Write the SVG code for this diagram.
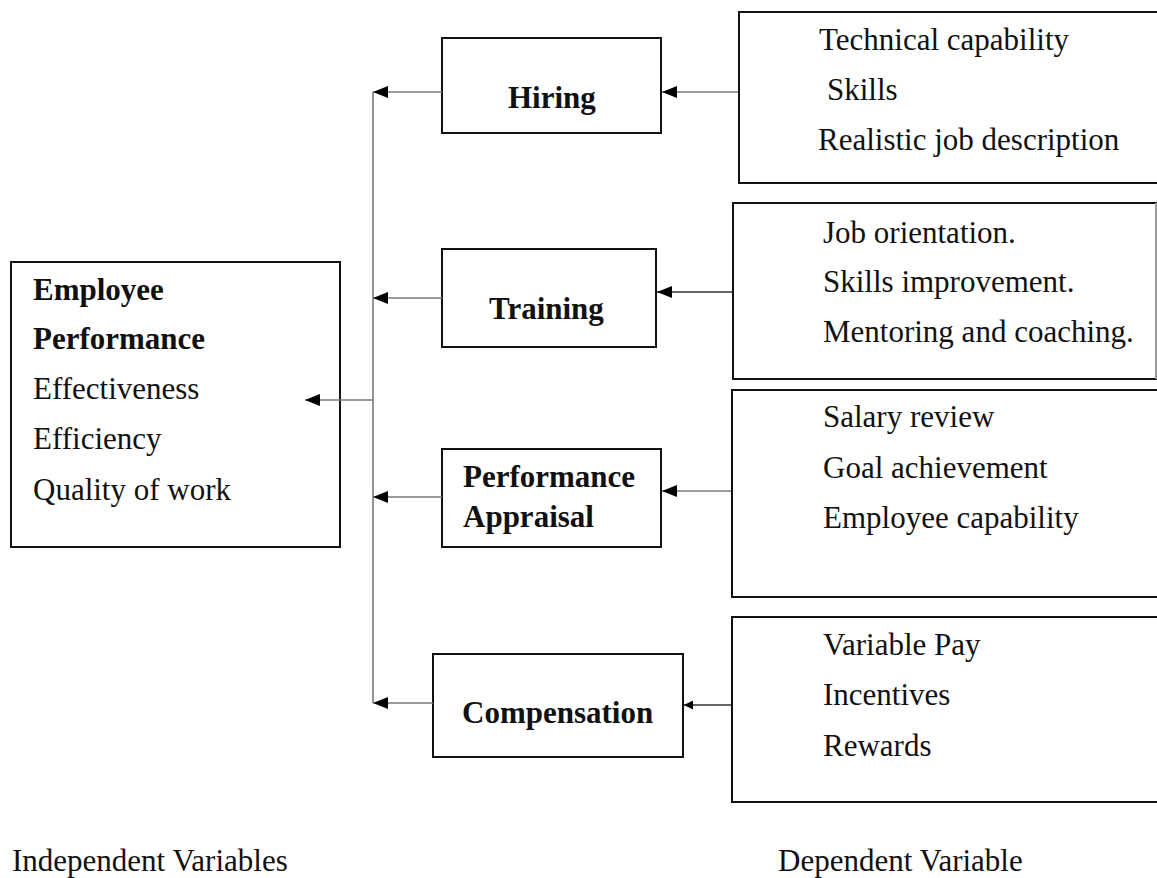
<svg xmlns="http://www.w3.org/2000/svg" width="1157" height="878" viewBox="0 0 1157 878">
  <style>
    .box { fill: #fff; stroke: #111; stroke-width: 2; }
    .txt { font-family: "Liberation Serif", "Times New Roman", serif; font-size: 31px; fill: #111; }
    .b { font-weight: bold; }
    .link { stroke: #7a7a7a; stroke-width: 1.6; fill: none; }
    .dark { stroke: #333; }
  </style>
  <defs>
    <marker id="head" markerUnits="userSpaceOnUse" viewBox="0 0 15 12" refX="15" refY="6" markerWidth="15" markerHeight="12" orient="auto">
      <path d="M0,0 L15,6 L0,12 Z" fill="#000"/>
    </marker>
    <marker id="headSmall" markerUnits="userSpaceOnUse" viewBox="0 0 9 9" refX="9" refY="4.5" markerWidth="9" markerHeight="9" orient="auto">
      <path d="M0,0 L9,4.5 L0,9 Z" fill="#000"/>
    </marker>
  </defs>

  <rect width="1157" height="878" fill="#fff"/>

  <!-- outcome -->
  <g id="employee-performance">
    <rect class="box" x="11" y="262" width="329" height="285"/>
    <text class="txt b" x="33" y="300">Employee</text>
    <text class="txt b" x="33" y="349">Performance</text>
    <text class="txt" x="33" y="399">Effectiveness</text>
    <text class="txt" x="33" y="449">Efficiency</text>
    <text class="txt" x="33" y="500">Quality of work</text>
  </g>

  <!-- HR practices -->
  <g id="hiring">
    <rect class="box" x="442" y="38" width="219" height="95"/>
    <text class="txt b" x="508" y="108">Hiring</text>
  </g>
  <g id="training">
    <rect class="box" x="442" y="249" width="214" height="98"/>
    <text class="txt b" x="489" y="319">Training</text>
  </g>
  <g id="performance-appraisal">
    <rect class="box" x="442" y="449" width="219" height="98"/>
    <text class="txt b" x="463" y="487">Performance</text>
    <text class="txt b" x="463" y="527">Appraisal</text>
  </g>
  <g id="compensation">
    <rect class="box" x="433" y="654" width="250" height="103"/>
    <text class="txt b" x="462" y="723">Compensation</text>
  </g>

  <!-- indicator lists -->
  <g id="hiring-items">
    <rect class="box" x="739" y="12" width="440" height="171"/>
    <text class="txt" x="819" y="50">Technical capability</text>
    <text class="txt" x="827" y="100">Skills</text>
    <text class="txt" x="818" y="150">Realistic job description</text>
  </g>
  <g id="training-items">
    <rect class="box" x="733" y="203" width="423" height="176"/>
    <line x1="1156" y1="203" x2="1156" y2="379" stroke="#999" stroke-width="2"/>
    <text class="txt" x="823" y="243">Job orientation.</text>
    <text class="txt" x="823" y="292">Skills improvement.</text>
    <text class="txt" x="823" y="342">Mentoring and coaching.</text>
  </g>
  <g id="appraisal-items">
    <rect class="box" x="732" y="390" width="440" height="207"/>
    <text class="txt" x="823" y="427">Salary review</text>
    <text class="txt" x="823" y="478">Goal achievement</text>
    <text class="txt" x="823" y="528">Employee capability</text>
  </g>
  <g id="compensation-items">
    <rect class="box" x="732" y="617" width="440" height="185"/>
    <text class="txt" x="823" y="655">Variable Pay</text>
    <text class="txt" x="823" y="705">Incentives</text>
    <text class="txt" x="823" y="756">Rewards</text>
  </g>

  <!-- connectors, drawn last so the main arrow sits inside the outcome box -->
  <g id="connectors">
    <line class="link" x1="373" y1="92" x2="373" y2="703"/>
    <line class="link" x1="442" y1="92" x2="373" y2="92" marker-end="url(#head)"/>
    <line class="link" x1="442" y1="298" x2="373" y2="298" marker-end="url(#head)"/>
    <line class="link" x1="442" y1="497" x2="373" y2="497" marker-end="url(#head)"/>
    <line class="link" x1="433" y1="703" x2="373" y2="703" marker-end="url(#head)"/>
    <line class="link" x1="373" y1="400" x2="305" y2="400" marker-end="url(#head)"/>
    <line class="link" x1="738" y1="92" x2="662" y2="92" marker-end="url(#head)"/>
    <line class="link dark" x1="732" y1="292" x2="657" y2="292" marker-end="url(#head)"/>
    <line class="link" x1="731" y1="491" x2="662" y2="491" marker-end="url(#head)"/>
    <line class="link dark" x1="731" y1="705" x2="684" y2="705" marker-end="url(#headSmall)"/>
  </g>

  <!-- captions -->
  <g id="captions">
    <text class="txt" x="12" y="871">Independent Variables</text>
    <text class="txt" x="778" y="871">Dependent Variable</text>
  </g>
</svg>
